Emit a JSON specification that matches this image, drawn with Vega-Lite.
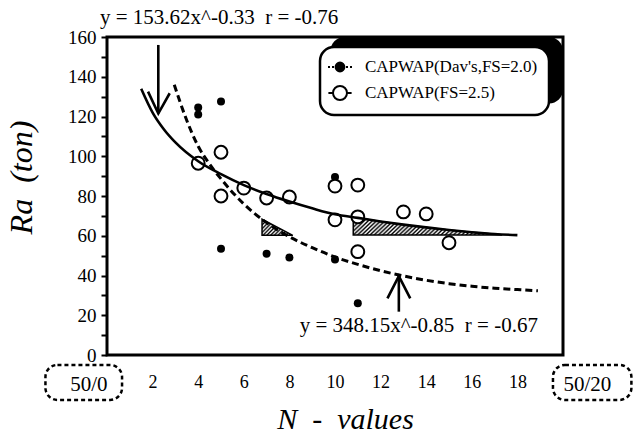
{
  "$schema": "https://vega.github.io/schema/vega-lite/v6.json",
  "width": 456,
  "height": 318,
  "autosize": "none",
  "padding": {"left": 107, "top": 37, "right": 72, "bottom": 84},
  "title": {"text": "y = 153.62x^-0.33\u00a0\u00a0r = -0.76", "anchor": "start", "frame": "group", "dx": -7, "offset": -17, "baseline": "alphabetic", "font": "Liberation Serif", "fontSize": 21, "fontWeight": "normal", "color": "black"},
  "datasets": {
    "points": [
      {"series": "CAPWAP(Dav's,FS=2.0)", "n": 4, "ra": 124.5},
      {"series": "CAPWAP(Dav's,FS=2.0)", "n": 4, "ra": 121},
      {"series": "CAPWAP(Dav's,FS=2.0)", "n": 5, "ra": 127.5},
      {"series": "CAPWAP(Dav's,FS=2.0)", "n": 10, "ra": 89.5},
      {"series": "CAPWAP(Dav's,FS=2.0)", "n": 5, "ra": 53.5},
      {"series": "CAPWAP(Dav's,FS=2.0)", "n": 7, "ra": 51},
      {"series": "CAPWAP(Dav's,FS=2.0)", "n": 8, "ra": 49},
      {"series": "CAPWAP(Dav's,FS=2.0)", "n": 10, "ra": 48},
      {"series": "CAPWAP(Dav's,FS=2.0)", "n": 11, "ra": 26},
      {"series": "CAPWAP(FS=2.5)", "n": 4, "ra": 96.5},
      {"series": "CAPWAP(FS=2.5)", "n": 5, "ra": 102},
      {"series": "CAPWAP(FS=2.5)", "n": 5, "ra": 80},
      {"series": "CAPWAP(FS=2.5)", "n": 6, "ra": 84},
      {"series": "CAPWAP(FS=2.5)", "n": 7, "ra": 79},
      {"series": "CAPWAP(FS=2.5)", "n": 8, "ra": 79.5},
      {"series": "CAPWAP(FS=2.5)", "n": 10, "ra": 85},
      {"series": "CAPWAP(FS=2.5)", "n": 11, "ra": 85.5},
      {"series": "CAPWAP(FS=2.5)", "n": 10, "ra": 68},
      {"series": "CAPWAP(FS=2.5)", "n": 11, "ra": 69.5},
      {"series": "CAPWAP(FS=2.5)", "n": 13, "ra": 72},
      {"series": "CAPWAP(FS=2.5)", "n": 14, "ra": 71},
      {"series": "CAPWAP(FS=2.5)", "n": 15, "ra": 56.5},
      {"series": "CAPWAP(FS=2.5)", "n": 11, "ra": 52}
    ],
    "curves": [
      {"eq": "solid", "n": 1.5, "ra": 134},
      {"eq": "solid", "n": 2, "ra": 122},
      {"eq": "solid", "n": 2.5, "ra": 113.5},
      {"eq": "solid", "n": 3, "ra": 107},
      {"eq": "solid", "n": 4, "ra": 97.5},
      {"eq": "solid", "n": 5, "ra": 91},
      {"eq": "solid", "n": 6, "ra": 85.5},
      {"eq": "solid", "n": 7, "ra": 81},
      {"eq": "solid", "n": 8, "ra": 77.2},
      {"eq": "solid", "n": 9, "ra": 73.8},
      {"eq": "solid", "n": 10, "ra": 70.8},
      {"eq": "solid", "n": 11, "ra": 69},
      {"eq": "solid", "n": 12, "ra": 67.2},
      {"eq": "solid", "n": 13, "ra": 65.6},
      {"eq": "solid", "n": 14, "ra": 64.2},
      {"eq": "solid", "n": 15, "ra": 62.9},
      {"eq": "solid", "n": 16, "ra": 61.8},
      {"eq": "solid", "n": 17, "ra": 60.9},
      {"eq": "solid", "n": 18, "ra": 60.3},
      {"eq": "dashed", "n": 2.95, "ra": 136},
      {"eq": "dashed", "n": 3.5, "ra": 118},
      {"eq": "dashed", "n": 4, "ra": 105},
      {"eq": "dashed", "n": 4.5, "ra": 96},
      {"eq": "dashed", "n": 5, "ra": 88.6},
      {"eq": "dashed", "n": 6, "ra": 76},
      {"eq": "dashed", "n": 7, "ra": 66.6},
      {"eq": "dashed", "n": 8, "ra": 59.5},
      {"eq": "dashed", "n": 9, "ra": 54},
      {"eq": "dashed", "n": 10, "ra": 49.3},
      {"eq": "dashed", "n": 11, "ra": 45.6},
      {"eq": "dashed", "n": 12, "ra": 42.4},
      {"eq": "dashed", "n": 13, "ra": 39.8},
      {"eq": "dashed", "n": 14, "ra": 37.6},
      {"eq": "dashed", "n": 15, "ra": 35.9},
      {"eq": "dashed", "n": 16, "ra": 34.6},
      {"eq": "dashed", "n": 17, "ra": 33.6},
      {"eq": "dashed", "n": 18, "ra": 32.9},
      {"eq": "dashed", "n": 18.9, "ra": 32.3}
    ],
    "hatchSmall": [
      {"n": 6.8, "top": 68.3, "base": 60.2},
      {"n": 8.15, "top": 60.2, "base": 60.2}
    ],
    "hatchLong": [
      {"n": 10.8, "top": 69.3, "base": 60.4},
      {"n": 12, "top": 67.2, "base": 60.4},
      {"n": 13, "top": 65.6, "base": 60.4},
      {"n": 14, "top": 64.2, "base": 60.4},
      {"n": 15, "top": 62.9, "base": 60.4},
      {"n": 16, "top": 61.8, "base": 60.4},
      {"n": 17, "top": 60.9, "base": 60.4},
      {"n": 17.3, "top": 60.5, "base": 60.4}
    ],
    "arrows": [
      {"id": "d1", "k": 1, "n": 2.25, "ra": 156},
      {"id": "d1", "k": 2, "n": 2.25, "ra": 121.5},
      {"id": "d2", "k": 1, "n": 1.8, "ra": 132.5},
      {"id": "d2", "k": 2, "n": 2.25, "ra": 121.5},
      {"id": "d2", "k": 3, "n": 2.75, "ra": 131.7},
      {"id": "u1", "k": 1, "n": 12.8, "ra": 21.8},
      {"id": "u1", "k": 2, "n": 12.8, "ra": 39.7},
      {"id": "u2", "k": 1, "n": 12.3, "ra": 28.5},
      {"id": "u2", "k": 2, "n": 12.8, "ra": 39.7},
      {"id": "u2", "k": 3, "n": 13.3, "ra": 28.5}
    ],
    "boxes": [
      {"n": -2.7, "n2": 0.66, "ra": -5, "ra2": -22.6},
      {"n": 19.56, "n2": 23.0, "ra": -5, "ra2": -22.6}
    ],
    "shadow": [
      {"n": 9.8, "n2": 20.0, "ra": 126.5, "ra2": 160}
    ],
    "notes": [
      {"n": 8.45, "ra": 11.7, "label": "y = 348.15x^-0.85\u00a0\u00a0r = -0.67"}
    ]
  },
  "encoding": {
    "x": {"field": "n", "type": "quantitative", "scale": {"domain": [0, 20], "nice": false, "zero": false},
      "axis": {
        "values": [0,1,2,3,4,5,6,7,8,9,10,11,12,13,14,15,16,17,18,19,20],
        "labelExpr": "datum.value == 0 ? '50/0' : (datum.value == 20 ? '50/20' : (datum.value % 2 == 0 ? datum.label : ''))",
        "labelFontSize": {"condition": {"test": "datum.value == 0 || datum.value == 20", "value": 21}, "value": 18},
        "labelAlign": {"condition": [{"test": "datum.value == 0", "value": "right"}, {"test": "datum.value == 20", "value": "left"}], "value": "center"},
        "labelFlush": false, "labelOverlap": false, "labelPadding": 18, "tickSize": 0,
        "title": "N\u00a0\u00a0-\u00a0\u00a0values", "titleFontSize": 30, "titleFontStyle": "italic",
        "titleX": 238, "titleY": 73, "titleBaseline": "alphabetic", "titleAlign": "center",
        "encode": {
          "ticks": {"update": {"y": {"value": 0}, "y2": {"value": -6}}}
        }
      }
    },
    "y": {"field": "ra", "type": "quantitative", "scale": {"domain": [0, 160], "nice": false, "zero": false},
      "axis": {
        "values": [0,10,20,30,40,50,60,70,80,90,100,110,120,130,140,150,160],
        "labelExpr": "datum.value % 20 == 0 ? datum.label : ''",
        "labelFontSize": 19, "labelPadding": 5, "tickSize": 6, "labelOverlap": false,
        "title": "Ra\u00a0\u00a0(ton)", "titleFontSize": 32, "titleFontStyle": "italic",
        "titleX": -76, "titleY": 140, "titleAngle": 270, "titleBaseline": "alphabetic", "titleAlign": "center",
        "encode": {"ticks": {"update": {"x": {"signal": "datum.value % 20 == 0 ? -6 : 0"}, "x2": {"value": 7}}}}
      }
    }
  },
  "layer": [
    {
      "data": {"name": "shadow"},
      "mark": {"type": "rect", "fill": "black", "cornerRadius": 14},
      "encoding": {"x": {"field": "n", "type": "quantitative"}, "x2": {"field": "n2"}, "y": {"field": "ra", "type": "quantitative"}, "y2": {"field": "ra2"}}
    },
    {
      "data": {"name": "hatchSmall"},
      "mark": {"type": "area", "stroke": "black", "strokeWidth": 1.5,
        "fill": {"gradient": "linear", "x1": 0, "y1": 0, "x2": 1.2, "y2": 0.62, "stops": [
          {"offset": 0, "color": "#fff"}, {"offset": 0.04, "color": "#000"}, {"offset": 0.08, "color": "#fff"}, {"offset": 0.12, "color": "#000"},
          {"offset": 0.16, "color": "#fff"}, {"offset": 0.2, "color": "#000"}, {"offset": 0.24, "color": "#fff"}, {"offset": 0.28, "color": "#000"},
          {"offset": 0.32, "color": "#fff"}, {"offset": 0.36, "color": "#000"}, {"offset": 0.4, "color": "#fff"}, {"offset": 0.44, "color": "#000"},
          {"offset": 0.48, "color": "#fff"}, {"offset": 0.52, "color": "#000"}, {"offset": 0.56, "color": "#fff"}, {"offset": 0.6, "color": "#000"},
          {"offset": 0.64, "color": "#fff"}, {"offset": 0.68, "color": "#000"}, {"offset": 0.72, "color": "#fff"}, {"offset": 0.76, "color": "#000"},
          {"offset": 0.8, "color": "#fff"}, {"offset": 0.84, "color": "#000"}, {"offset": 0.88, "color": "#fff"}, {"offset": 0.92, "color": "#000"},
          {"offset": 0.96, "color": "#fff"}, {"offset": 1, "color": "#000"}
        ]}},
      "encoding": {"x": {"field": "n", "type": "quantitative"}, "y": {"field": "top", "type": "quantitative"}, "y2": {"field": "base"}}
    },
    {
      "data": {"name": "hatchLong"},
      "mark": {"type": "area", "stroke": "black", "strokeWidth": 1.5,
        "fill": {"gradient": "linear", "x1": 0, "y1": 0, "x2": 1.108, "y2": 0.139, "stops": [
          {"offset": 0, "color": "#fff"}, {"offset": 0.0125, "color": "#000"}, {"offset": 0.025, "color": "#fff"}, {"offset": 0.0375, "color": "#000"},
          {"offset": 0.05, "color": "#fff"}, {"offset": 0.0625, "color": "#000"}, {"offset": 0.075, "color": "#fff"}, {"offset": 0.0875, "color": "#000"},
          {"offset": 0.1, "color": "#fff"}, {"offset": 0.1125, "color": "#000"}, {"offset": 0.125, "color": "#fff"}, {"offset": 0.1375, "color": "#000"},
          {"offset": 0.15, "color": "#fff"}, {"offset": 0.1625, "color": "#000"}, {"offset": 0.175, "color": "#fff"}, {"offset": 0.1875, "color": "#000"},
          {"offset": 0.2, "color": "#fff"}, {"offset": 0.2125, "color": "#000"}, {"offset": 0.225, "color": "#fff"}, {"offset": 0.2375, "color": "#000"},
          {"offset": 0.25, "color": "#fff"}, {"offset": 0.2625, "color": "#000"}, {"offset": 0.275, "color": "#fff"}, {"offset": 0.2875, "color": "#000"},
          {"offset": 0.3, "color": "#fff"}, {"offset": 0.3125, "color": "#000"}, {"offset": 0.325, "color": "#fff"}, {"offset": 0.3375, "color": "#000"},
          {"offset": 0.35, "color": "#fff"}, {"offset": 0.3625, "color": "#000"}, {"offset": 0.375, "color": "#fff"}, {"offset": 0.3875, "color": "#000"},
          {"offset": 0.4, "color": "#fff"}, {"offset": 0.4125, "color": "#000"}, {"offset": 0.425, "color": "#fff"}, {"offset": 0.4375, "color": "#000"},
          {"offset": 0.45, "color": "#fff"}, {"offset": 0.4625, "color": "#000"}, {"offset": 0.475, "color": "#fff"}, {"offset": 0.4875, "color": "#000"},
          {"offset": 0.5, "color": "#fff"}, {"offset": 0.5125, "color": "#000"}, {"offset": 0.525, "color": "#fff"}, {"offset": 0.5375, "color": "#000"},
          {"offset": 0.55, "color": "#fff"}, {"offset": 0.5625, "color": "#000"}, {"offset": 0.575, "color": "#fff"}, {"offset": 0.5875, "color": "#000"},
          {"offset": 0.6, "color": "#fff"}, {"offset": 0.6125, "color": "#000"}, {"offset": 0.625, "color": "#fff"}, {"offset": 0.6375, "color": "#000"},
          {"offset": 0.65, "color": "#fff"}, {"offset": 0.6625, "color": "#000"}, {"offset": 0.675, "color": "#fff"}, {"offset": 0.6875, "color": "#000"},
          {"offset": 0.7, "color": "#fff"}, {"offset": 0.7125, "color": "#000"}, {"offset": 0.725, "color": "#fff"}, {"offset": 0.7375, "color": "#000"},
          {"offset": 0.75, "color": "#fff"}, {"offset": 0.7625, "color": "#000"}, {"offset": 0.775, "color": "#fff"}, {"offset": 0.7875, "color": "#000"},
          {"offset": 0.8, "color": "#fff"}, {"offset": 0.8125, "color": "#000"}, {"offset": 0.825, "color": "#fff"}, {"offset": 0.8375, "color": "#000"},
          {"offset": 0.85, "color": "#fff"}, {"offset": 0.8625, "color": "#000"}, {"offset": 0.875, "color": "#fff"}, {"offset": 0.8875, "color": "#000"},
          {"offset": 0.9, "color": "#fff"}, {"offset": 0.9125, "color": "#000"}, {"offset": 0.925, "color": "#fff"}, {"offset": 0.9375, "color": "#000"},
          {"offset": 0.95, "color": "#fff"}, {"offset": 0.9625, "color": "#000"}, {"offset": 0.975, "color": "#fff"}, {"offset": 0.9875, "color": "#000"},
          {"offset": 1, "color": "#fff"}
        ]}},
      "encoding": {"x": {"field": "n", "type": "quantitative"}, "y": {"field": "top", "type": "quantitative"}, "y2": {"field": "base"}}
    },
    {
      "data": {"name": "points"},
      "transform": [{"filter": "datum.series == \"CAPWAP(Dav's,FS=2.0)\""}],
      "mark": {"type": "circle", "fill": "black", "size": 64, "opacity": 1}
    },
    {
      "data": {"name": "points"},
      "transform": [{"filter": "datum.series == 'CAPWAP(FS=2.5)'"}],
      "mark": {"type": "circle", "fill": "white", "stroke": "black", "strokeWidth": 2, "size": 165, "opacity": 1}
    },
    {
      "data": {"name": "curves"},
      "transform": [{"filter": "datum.eq == 'solid'"}],
      "mark": {"type": "line", "color": "black", "strokeWidth": 2.6, "interpolate": "monotone"},
      "encoding": {}
    },
    {
      "data": {"name": "curves"},
      "transform": [{"filter": "datum.eq == 'dashed'"}],
      "mark": {"type": "line", "color": "black", "strokeWidth": 3, "strokeDash": [7, 4], "interpolate": "monotone"},
      "encoding": {}
    },
    {
      "data": {"name": "arrows"},
      "mark": {"type": "line", "color": "black", "strokeWidth": 2.6, "strokeJoin": "miter"},
      "encoding": {"detail": {"field": "id"}, "order": {"field": "k", "type": "quantitative"}}
    },
    {
      "data": {"name": "notes"},
      "mark": {"type": "text", "align": "left", "baseline": "alphabetic", "font": "Liberation Serif", "fontSize": 21, "color": "black"},
      "encoding": {"text": {"field": "label"}}
    },
    {
      "data": {"name": "boxes"},
      "mark": {"type": "rect", "filled": false, "stroke": "black", "strokeWidth": 2.5, "strokeDash": [4, 3], "cornerRadius": 12},
      "encoding": {"x": {"field": "n", "type": "quantitative"}, "x2": {"field": "n2"}, "y": {"field": "ra", "type": "quantitative"}, "y2": {"field": "ra2"}}
    },
    {
      "data": {"name": "points"},
      "mark": {"type": "point", "filled": true, "opacity": 0},
      "encoding": {
        "fill": {"field": "series", "type": "nominal",
          "scale": {"domain": ["CAPWAP(Dav's,FS=2.0)", "CAPWAP(FS=2.5)"], "range": ["black", "white"]},
          "legend": {"orient": "none", "legendX": 213, "legendY": 10, "title": null,
            "encode": {
              "symbols": {"update": {"stroke": {"value": "black"}, "strokeWidth": {"value": 2}, "opacity": {"value": 1}}},
              "legend": {"update": {"strokeWidth": {"value": 2.5}}}
            }}},
        "shape": {"field": "series", "type": "nominal",
          "scale": {"domain": ["CAPWAP(Dav's,FS=2.0)", "CAPWAP(FS=2.5)"], "range": [
            "M-1.5,0L-1.25,0M-1,0L-0.75,0M0.75,0L1,0M1.25,0L1.5,0M0.55,0A0.55,0.55,0,1,1,-0.55,0A0.55,0.55,0,1,1,0.55,0Z",
            "M-1.45,0L-0.875,0M0.875,0L1.45,0M0.875,0A0.875,0.875,0,1,1,-0.875,0A0.875,0.875,0,1,1,0.875,0Z"
          ]},
          "legend": {"orient": "none", "legendX": 213, "legendY": 10, "title": null,
            "encode": {
              "symbols": {"update": {"stroke": {"value": "black"}, "strokeWidth": {"value": 2}, "opacity": {"value": 1}}},
              "legend": {"update": {"strokeWidth": {"value": 2.5}}}
            }}}
      }
    }
  ],
  "config": {
    "font": "Liberation Serif",
    "view": {"stroke": "black", "strokeWidth": 3},
    "axis": {"labelFont": "Liberation Serif", "titleFont": "Liberation Serif", "labelColor": "black", "titleColor": "black", "tickColor": "black", "tickWidth": 2, "grid": false, "domain": false, "titleFontWeight": "normal"},
    "legend": {"strokeColor": "black", "fillColor": "white", "cornerRadius": 14, "padding": 11, "labelFont": "Liberation Serif", "labelFontSize": 17, "labelColor": "black", "labelLimit": 400, "labelOffset": 16, "rowPadding": 6, "symbolSize": 256, "symbolStrokeWidth": 2, "symbolStrokeColor": "black", "symbolOpacity": 1}
  }
}
